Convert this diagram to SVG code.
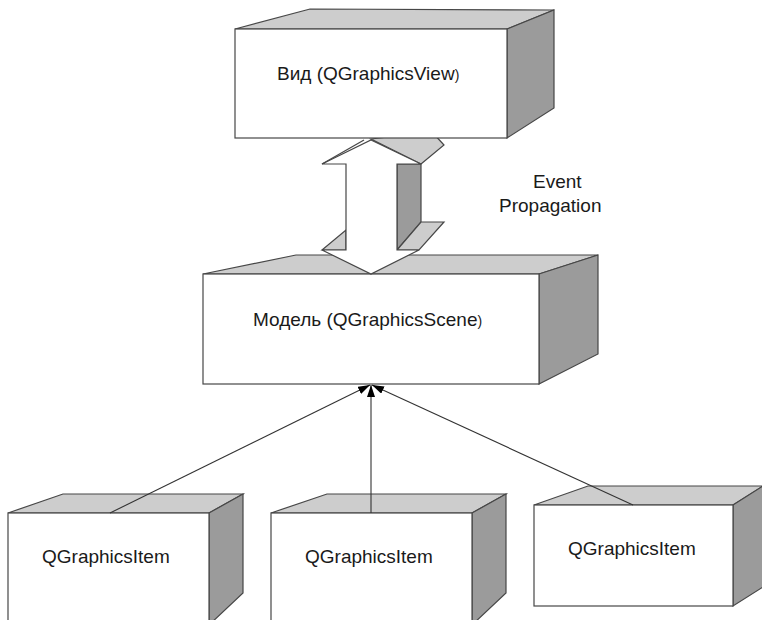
<svg xmlns="http://www.w3.org/2000/svg" width="762" height="620" viewBox="0 0 762 620">
  <defs>
    <style>
      .edge { stroke: #474747; stroke-width: 1.2; stroke-linejoin: miter; }
      .front { fill: #ffffff; }
      .top { fill: #cdcdcd; }
      .side { fill: #9b9b9b; }
      .label { font-family: "Liberation Sans", Arial, sans-serif; font-size: 19px; fill: #1a1a1a; }
      .paren { font-size: 14px; }
      .link { stroke: #333333; stroke-width: 1.1; fill: none; }
    </style>
    <marker id="head" viewBox="0 0 12 8" refX="12" refY="4" markerWidth="12" markerHeight="8" markerUnits="userSpaceOnUse" orient="auto">
      <path d="M0,0 L12,4 L0,8 Z" fill="#000000"/>
    </marker>
  </defs>

  <!-- Scene box -->
  <g id="scene">
    <polygon class="top edge" points="203,274 296,255 598,255 539,274"/>
    <polygon class="side edge" points="539,274 598,255 598,354 539,384"/>
    <rect class="front edge" x="203" y="274" width="336" height="110"/>
    <text class="label" x="253" y="326">Модель (QGraphicsScene<tspan class="paren">)</tspan></text>
  </g>

  <!-- Double-headed block arrow between view and scene -->
  <g id="propagation-arrow">
    <polygon class="top edge" points="371,139 432,132 444,145 421,164"/>
    <polygon class="side edge" points="397,164 421,164 421,222 397,250"/>
    <polygon class="top edge" points="397,250 421,222 444,222 419,250"/>
    <polygon class="top edge" points="322,250 346,230 346,250"/>
    <polygon class="front edge" points="371,140 421,164 397,164 397,250 419,250 371,274 322,250 346,250 346,164 322,164"/>
    <line class="edge" x1="322" y1="164" x2="364" y2="140"/>
  </g>

  <!-- View box -->
  <g id="view">
    <polygon class="top edge" points="235,29 310,9 554,10 507,29"/>
    <polygon class="side edge" points="507,29 554,10 554,108 507,138"/>
    <rect class="front edge" x="235" y="29" width="272" height="109"/>
    <text class="label" x="277" y="80">Вид (QGraphicsView<tspan class="paren">)</tspan></text>
  </g>

  <g id="event-label">
    <text class="label" x="533" y="188">Event</text>
    <text class="label" x="499" y="212">Propagation</text>
  </g>

  <!-- Item boxes -->
  <g id="item-1">
    <polygon class="top edge" points="8,513 63,494 243,494 209,513"/>
    <polygon class="side edge" points="209,513 243,494 243,593 209,625"/>
    <rect class="front edge" x="8" y="513" width="201" height="115"/>
    <text class="label" x="42" y="563">QGraphicsItem</text>
  </g>

  <g id="item-2">
    <polygon class="top edge" points="271,513 327,494 506,494 472,513"/>
    <polygon class="side edge" points="472,513 506,494 506,593 472,625"/>
    <rect class="front edge" x="271" y="513" width="201" height="115"/>
    <text class="label" x="305" y="563">QGraphicsItem</text>
  </g>

  <g id="item-3">
    <polygon class="top edge" points="534,505 588,486 763,486 733,505"/>
    <polygon class="side edge" points="733,505 763,486 763,587 733,606"/>
    <rect class="front edge" x="534" y="505" width="199" height="101"/>
    <text class="label" x="568" y="555">QGraphicsItem</text>
  </g>

  <!-- Item-to-scene connectors -->
  <g id="connectors">
    <line class="link" x1="110" y1="513" x2="370" y2="385" marker-end="url(#head)"/>
    <line class="link" x1="371" y1="513" x2="371" y2="385" marker-end="url(#head)"/>
    <line class="link" x1="633" y1="505" x2="372" y2="385" marker-end="url(#head)"/>
  </g>
</svg>
